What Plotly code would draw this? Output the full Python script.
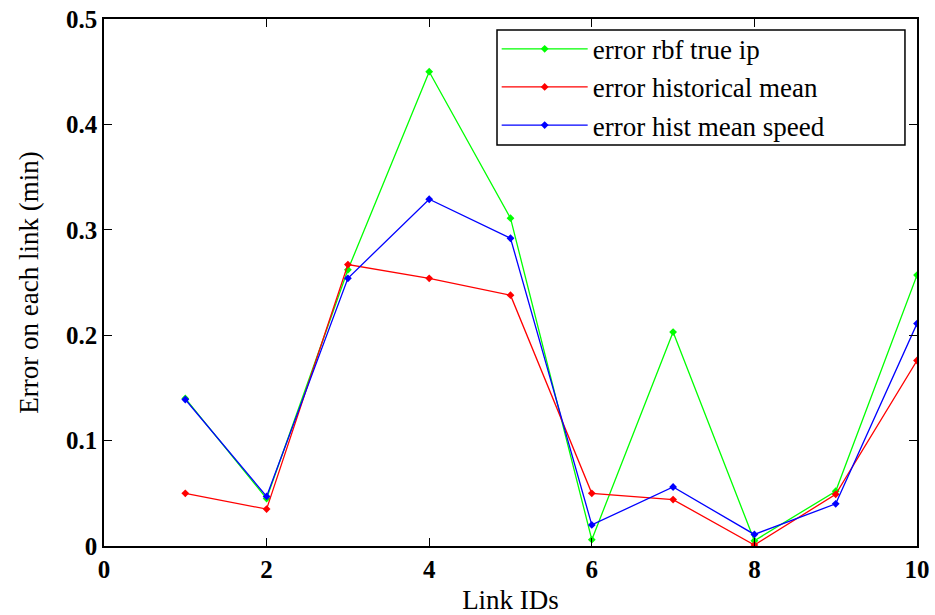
import plotly.graph_objects as go

# Per-link travel-time errors (minutes)
link_ids = [1, 2, 3, 4, 5, 6, 7, 8, 9, 10]
err_rbf_true_ip = [0.140, 0.045, 0.262, 0.450, 0.311, 0.006, 0.203, 0.005, 0.052, 0.257]
err_hist_mean = [0.050, 0.035, 0.267, 0.254, 0.238, 0.050, 0.044, 0.001, 0.049, 0.176]
err_hist_mean_speed = [0.139, 0.047, 0.254, 0.329, 0.292, 0.020, 0.056, 0.011, 0.040, 0.211]

series = [
    ("error rbf true ip", err_rbf_true_ip, "#00ff00"),
    ("error historical mean", err_hist_mean, "#ff0000"),
    ("error hist mean speed", err_hist_mean_speed, "#0000ff"),
]

serif = "Times New Roman, Liberation Serif, DejaVu Serif, serif"

fig = go.Figure()
for name, vals, color in series:
    fig.add_trace(go.Scatter(
        x=link_ids, y=vals, name=name, mode="lines+markers",
        line=dict(color=color, width=1.3),
        marker=dict(symbol="diamond", size=6, color=color),
    ))

axis_common = dict(
    showline=True, linecolor="black", linewidth=1.5, mirror="ticks",
    ticks="inside", ticklen=8, tickcolor="black", tickwidth=1,
    showgrid=False, zeroline=False, automargin=False,
    tickfont=dict(family=serif, size=25, color="black", weight="bold"),
)

# Framed white panel behind the legend entries
fig.add_shape(
    type="rect", xref="paper", yref="paper",
    x0=0.4834, x1=0.9852, y0=0.761, y1=0.979,
    line=dict(color="black", width=1.5), fillcolor="white", layer="above",
)

fig.update_layout(
    width=935, height=615,
    margin=dict(l=104, r=18, t=19, b=69),
    paper_bgcolor="white", plot_bgcolor="white",
    font=dict(family=serif),
    xaxis=dict(range=[0, 10], tickvals=[0, 2, 4, 6, 8, 10],
               title=dict(text="Link IDs", font=dict(family=serif, size=27, color="black"), standoff=8),
               **axis_common),
    yaxis=dict(range=[0, 0.5], tickvals=[0, 0.1, 0.2, 0.3, 0.4, 0.5],
               tickformat="~g",
               title=dict(text="Error on each link (min)", font=dict(family=serif, size=27, color="black"), standoff=20),
               **axis_common),
    legend=dict(
        x=0.483, y=0.989, xanchor="left", yanchor="top",
        bgcolor="rgba(0,0,0,0)", borderwidth=0,
        font=dict(family=serif, size=27, color="black"),
        itemwidth=86, tracegroupgap=0,
    ),
    showlegend=True,
)

fig.write_html("out.html")
